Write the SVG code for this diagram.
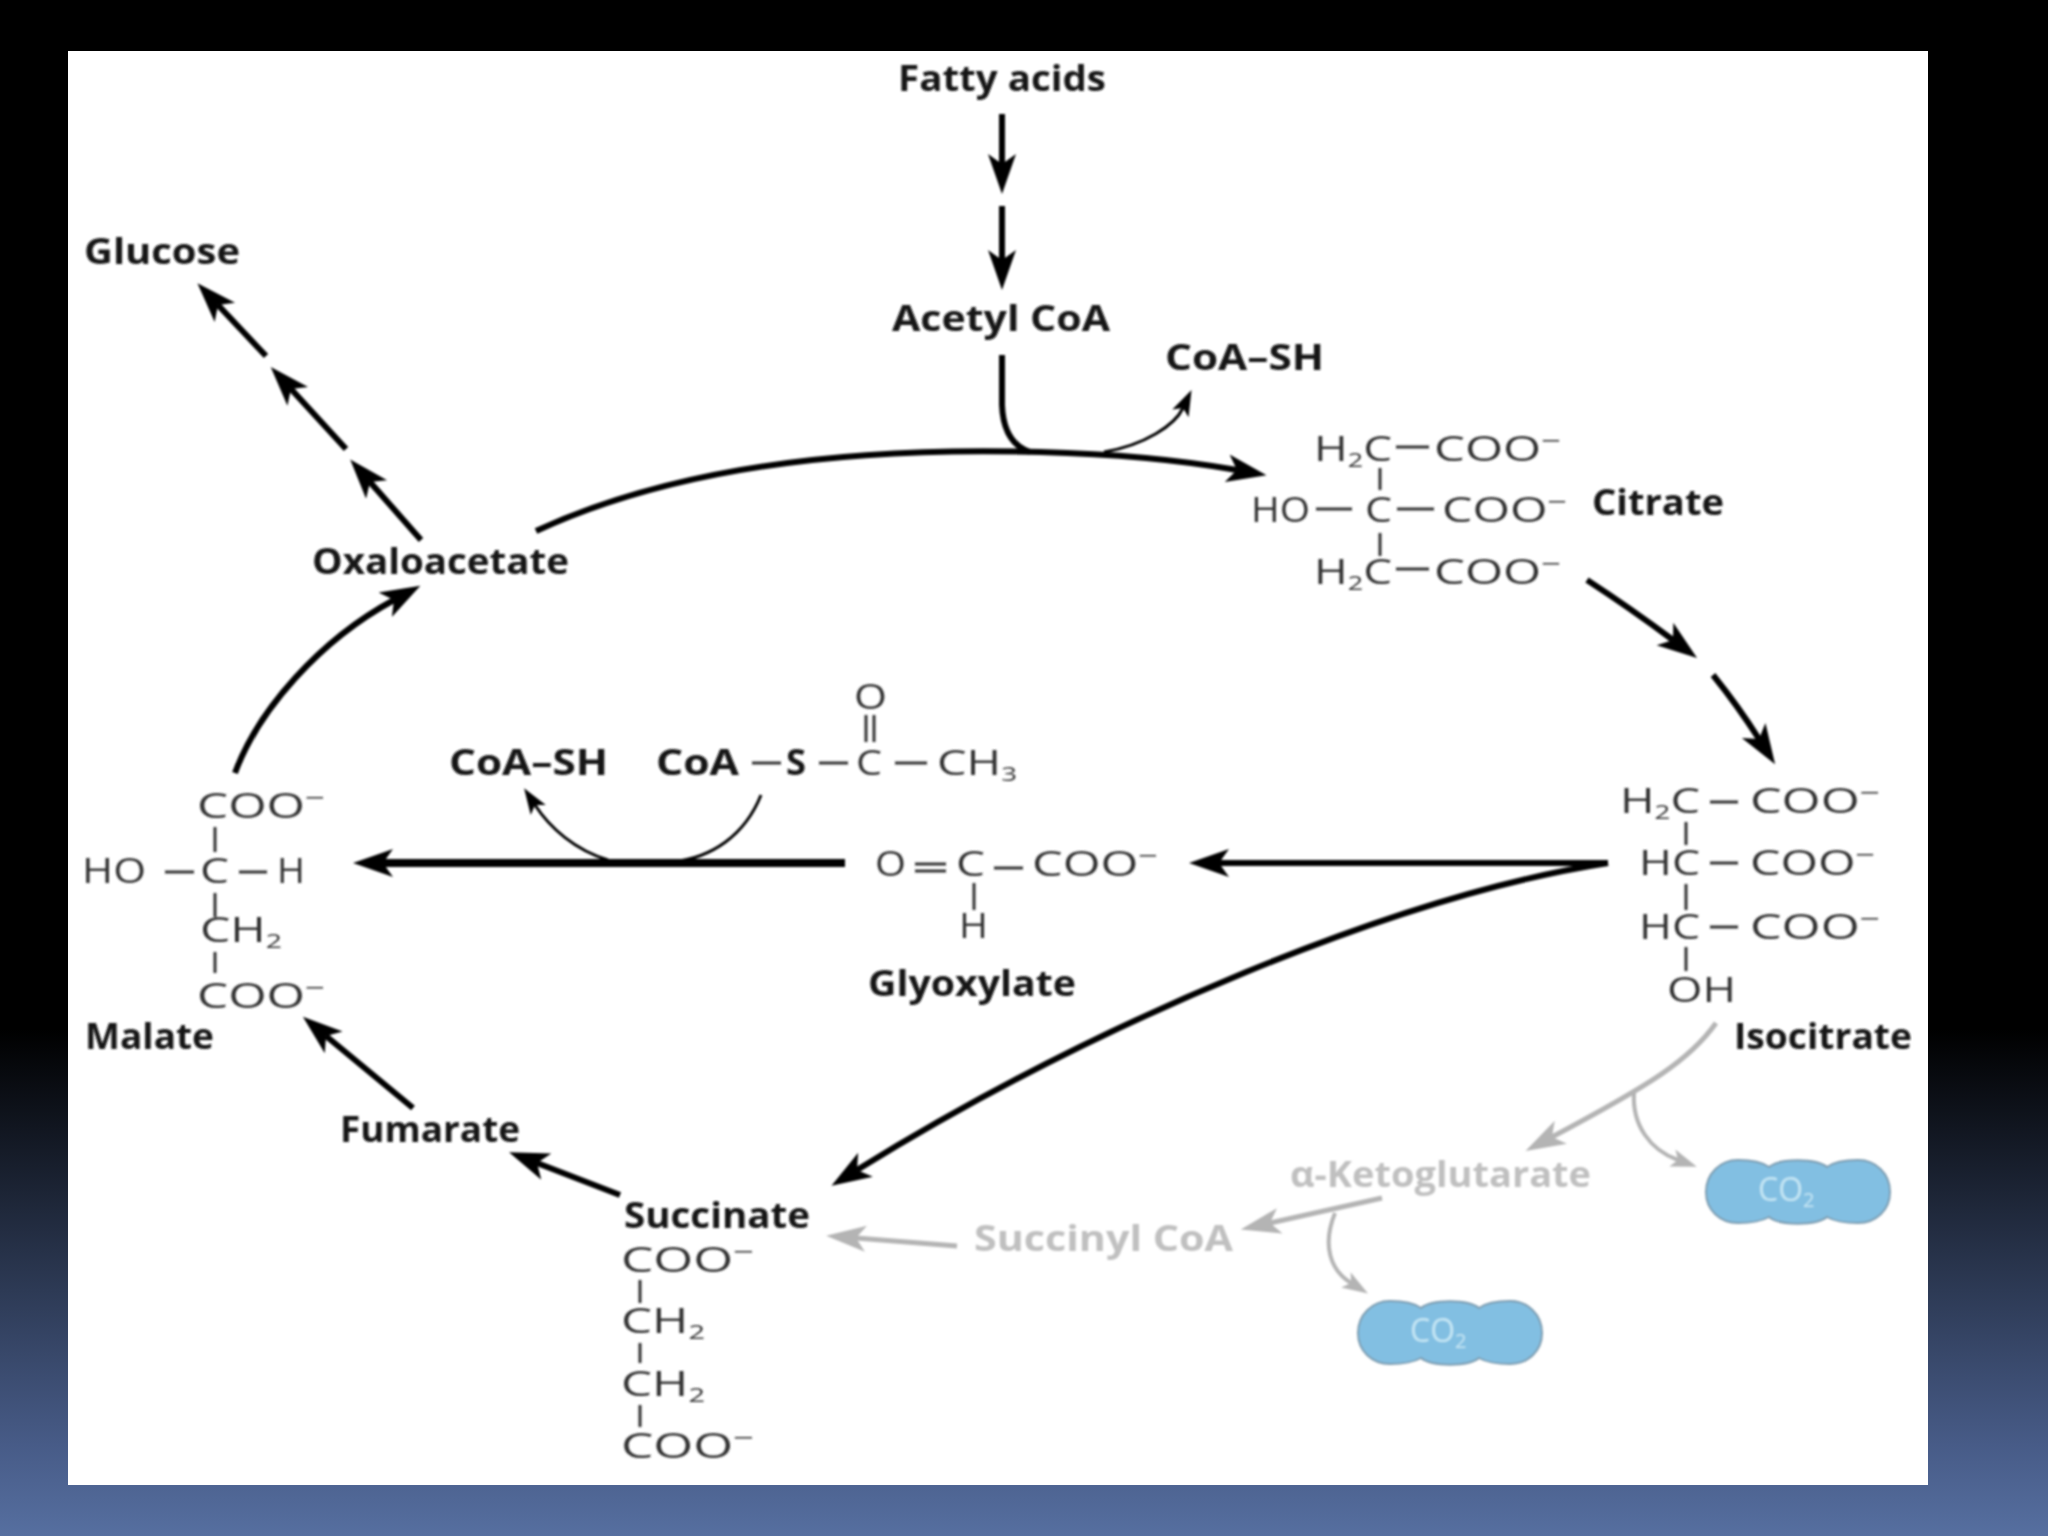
<svg xmlns="http://www.w3.org/2000/svg" width="2048" height="1536" viewBox="0 0 2048 1536">
<defs>
<linearGradient id="bg" x1="0" y1="0" x2="0" y2="1">
<stop offset="0" stop-color="#000"/><stop offset="0.67" stop-color="#000"/><stop offset="0.84" stop-color="#2d3a55"/><stop offset="0.94" stop-color="#475b87"/><stop offset="1" stop-color="#566fa0"/>
</linearGradient>
<filter id="soft" x="0" y="0" width="100%" height="100%" filterUnits="objectBoundingBox"><feGaussianBlur stdDeviation="0.9"/></filter>
<marker id="big" markerUnits="userSpaceOnUse" markerWidth="44" markerHeight="34" refX="10" refY="17" orient="auto"><path d="M0 3 L40 17 L0 31 L10 17Z" fill="#000"/></marker>
<marker id="small" markerUnits="userSpaceOnUse" markerWidth="30" markerHeight="24" refX="6" refY="12" orient="auto"><path d="M0 3 L26 12 L0 21 L6 12Z" fill="#000"/></marker>
<marker id="gbig" markerUnits="userSpaceOnUse" markerWidth="44" markerHeight="30" refX="10" refY="15" orient="auto"><path d="M0 2 L40 15 L0 28 L10 15Z" fill="#b4b4b4"/></marker>
<marker id="gsmall" markerUnits="userSpaceOnUse" markerWidth="30" markerHeight="24" refX="6" refY="12" orient="auto"><path d="M0 3 L26 12 L0 21 L6 12Z" fill="#b4b4b4"/></marker>
</defs>
<style>
.lab{font-family:"Open Sans","Liberation Sans",sans-serif;font-weight:700;font-size:35px;fill:#151515}
.gl{fill:#c0c0c0}
.ch{font-family:"Open Sans","Liberation Sans",sans-serif;font-weight:400;font-size:34px;fill:#333}
.sub{font-size:20px}
.sup{font-size:24px}
.co{font-family:"Open Sans","Liberation Sans",sans-serif;font-weight:400;font-size:32px;fill:#c4e6f4}
.bd{stroke:#333;stroke-width:3;fill:none}
.c{fill:none;stroke:#000;stroke-width:6}
.t{stroke-width:3}
.g{fill:none;stroke:#b4b4b4;stroke-width:5}
.cloud{fill:#82bfe2;stroke:#7d9cb0;stroke-width:2}
</style>
<rect width="2048" height="1536" fill="url(#bg)"/>
<rect x="68" y="51" width="1860" height="1434" fill="#fff"/>
<g filter="url(#soft)">
<g id="connectors">
<path class="c" d="M1002 114V164" marker-end="url(#big)"/>
<path class="c" d="M1002 206V260" marker-end="url(#big)"/>
<path class="c" d="M421 540L370 482" marker-end="url(#big)"/>
<path class="c" d="M346 449L291 389" marker-end="url(#big)"/>
<path class="c" d="M266 356L218 305" marker-end="url(#big)"/>
<path class="c" d="M1587 580Q1630 608 1673 640" marker-end="url(#big)"/>
<path class="c" d="M1713 675Q1738 706 1759 739" marker-end="url(#big)"/>
<path class="c" d="M1608 863H1219" stroke-width="7" marker-end="url(#big)"/>
<path class="c" d="M1608 863C1400 895 1100 1020 857 1170" marker-end="url(#big)"/>
<path class="c" style="stroke-width:8" d="M845 863H383" marker-end="url(#big)"/>
<path class="c t" d="M608 860C575 850 550 828 535 805" marker-end="url(#small)"/>
<path class="c t" d="M761 795C745 835 712 858 672 862"/>
<path class="c" d="M536 531C700 455 900 448 1040 452C1120 454 1180 460 1237 470" marker-end="url(#big)"/>
<path class="c" d="M1002 355V405C1003 430 1012 446 1030 452"/>
<path class="c t" d="M1104 452C1145 445 1175 425 1183 408" marker-end="url(#small)"/>
<path class="c" d="M235 773C258 710 320 640 394 600" marker-end="url(#big)"/>
<path class="c" d="M413 1108L326 1036" marker-end="url(#big)"/>
<path class="c" d="M620 1195L537 1163" marker-end="url(#big)"/>
<path class="g" d="M957 1246L856 1238" marker-end="url(#gbig)"/>
<path class="g" d="M1382 1198L1270 1223" marker-end="url(#gbig)"/>
<path class="g" d="M1716 1023C1690 1060 1650 1085 1552 1137" marker-end="url(#gbig)"/>
<path class="g" style="stroke-width:4" d="M1634 1093C1632 1125 1650 1150 1678 1160" marker-end="url(#gsmall)"/>
<path class="g" style="stroke-width:4" d="M1335 1213C1322 1245 1330 1270 1351 1283" marker-end="url(#gsmall)"/>
</g>
<g id="fatty-acids"><text class="lab" x="898" y="91" textLength="208" lengthAdjust="spacingAndGlyphs">Fatty acids</text></g>
<g id="glucose"><text class="lab" x="84" y="264" textLength="156" lengthAdjust="spacingAndGlyphs">Glucose</text></g>
<g id="acetyl-coa"><text class="lab" x="892" y="331" textLength="218" lengthAdjust="spacingAndGlyphs">Acetyl CoA</text></g>
<g id="coa-sh-top"><text class="lab" x="1165" y="370" textLength="159" lengthAdjust="spacingAndGlyphs">CoA–SH</text></g>
<g id="oxaloacetate"><text class="lab" x="312" y="574" textLength="257" lengthAdjust="spacingAndGlyphs">Oxaloacetate</text></g>
<g id="citrate">
<text class="lab" x="1592" y="515" textLength="132" lengthAdjust="spacingAndGlyphs">Citrate</text>
<text class="ch" x="1314" y="461" textLength="78" lengthAdjust="spacingAndGlyphs">H<tspan class="sub" dy="6">2</tspan><tspan dy="-6">C</tspan></text>
<text class="ch" x="1434" y="461" textLength="127" lengthAdjust="spacingAndGlyphs">COO<tspan class="sup" dy="-12">−</tspan></text>
<text class="ch" x="1251" y="522" textLength="59" lengthAdjust="spacingAndGlyphs">HO</text>
<text class="ch" x="1365" y="522" textLength="27" lengthAdjust="spacingAndGlyphs">C</text>
<text class="ch" x="1442" y="522" textLength="125" lengthAdjust="spacingAndGlyphs">COO<tspan class="sup" dy="-12">−</tspan></text>
<text class="ch" x="1314" y="584" textLength="78" lengthAdjust="spacingAndGlyphs">H<tspan class="sub" dy="6">2</tspan><tspan dy="-6">C</tspan></text>
<text class="ch" x="1434" y="584" textLength="127" lengthAdjust="spacingAndGlyphs">COO<tspan class="sup" dy="-12">−</tspan></text>
<path class="bd" d="M1396 447H1429M1316 509H1352M1397 509H1434M1396 569H1429M1380 468V490M1380 533V556"/>
</g>
<g id="isocitrate">
<text class="lab" x="1734" y="1049" textLength="178" lengthAdjust="spacingAndGlyphs">Isocitrate</text>
<text class="ch" x="1620" y="813" textLength="80" lengthAdjust="spacingAndGlyphs">H<tspan class="sub" dy="6">2</tspan><tspan dy="-6">C</tspan></text>
<text class="ch" x="1750" y="813" textLength="130" lengthAdjust="spacingAndGlyphs">COO<tspan class="sup" dy="-12">−</tspan></text>
<text class="ch" x="1639" y="875" textLength="61" lengthAdjust="spacingAndGlyphs">HC</text>
<text class="ch" x="1750" y="875" textLength="125" lengthAdjust="spacingAndGlyphs">COO<tspan class="sup" dy="-12">−</tspan></text>
<text class="ch" x="1639" y="939" textLength="61" lengthAdjust="spacingAndGlyphs">HC</text>
<text class="ch" x="1750" y="939" textLength="130" lengthAdjust="spacingAndGlyphs">COO<tspan class="sup" dy="-12">−</tspan></text>
<text class="ch" x="1667" y="1002" textLength="69" lengthAdjust="spacingAndGlyphs">OH</text>
<path class="bd" d="M1710 802H1738M1710 863H1738M1710 927H1738M1686 822V845M1686 884V910M1686 947V971"/>
</g>
<g id="glyoxylate">
<text class="lab" x="868" y="996" textLength="208" lengthAdjust="spacingAndGlyphs">Glyoxylate</text>
<text class="ch" x="875" y="876" textLength="31" lengthAdjust="spacingAndGlyphs">O</text>
<text class="ch" x="956" y="876" textLength="29" lengthAdjust="spacingAndGlyphs">C</text>
<text class="ch" x="1032" y="876" textLength="126" lengthAdjust="spacingAndGlyphs">COO<tspan class="sup" dy="-12">−</tspan></text>
<text class="ch" x="959" y="938" textLength="29" lengthAdjust="spacingAndGlyphs">H</text>
<path class="bd" d="M915 864H946M915 871H946M994 868H1023M974 883V910"/>
</g>
<g id="acetyl-coa-thioester">
<text class="lab" x="449" y="775" textLength="159" lengthAdjust="spacingAndGlyphs">CoA–SH</text>
<text class="lab" x="656" y="775" textLength="83" lengthAdjust="spacingAndGlyphs">CoA</text>
<text class="lab" x="786" y="775" textLength="20" lengthAdjust="spacingAndGlyphs">S</text>
<text class="ch" x="856" y="775" textLength="26" lengthAdjust="spacingAndGlyphs">C</text>
<text class="ch" x="937" y="775" textLength="80" lengthAdjust="spacingAndGlyphs">CH<tspan class="sub" dy="6">3</tspan></text>
<text class="ch" x="854" y="709" textLength="33" lengthAdjust="spacingAndGlyphs">O</text>
<path class="bd" d="M752 763H781M819 763H848M895 763H927M866 715V742M874 715V742"/>
</g>
<g id="malate">
<text class="lab" x="85" y="1049" textLength="129" lengthAdjust="spacingAndGlyphs">Malate</text>
<text class="ch" x="197" y="818" textLength="128" lengthAdjust="spacingAndGlyphs">COO<tspan class="sup" dy="-12">−</tspan></text>
<text class="ch" x="82" y="883" textLength="64" lengthAdjust="spacingAndGlyphs">HO</text>
<text class="ch" x="200" y="883" textLength="29" lengthAdjust="spacingAndGlyphs">C</text>
<text class="ch" x="277" y="883" textLength="28" lengthAdjust="spacingAndGlyphs">H</text>
<text class="ch" x="200" y="942" textLength="82" lengthAdjust="spacingAndGlyphs">CH<tspan class="sub" dy="6">2</tspan></text>
<text class="ch" x="197" y="1008" textLength="128" lengthAdjust="spacingAndGlyphs">COO<tspan class="sup" dy="-12">−</tspan></text>
<path class="bd" d="M215 827V852M215 893V917M215 952V973M165 872H194M239 872H267"/>
</g>
<g id="fumarate"><text class="lab" x="340" y="1142" textLength="180" lengthAdjust="spacingAndGlyphs">Fumarate</text></g>
<g id="succinate">
<text class="lab" x="624" y="1228" textLength="186" lengthAdjust="spacingAndGlyphs">Succinate</text>
<text class="ch" x="621" y="1272" textLength="133" lengthAdjust="spacingAndGlyphs">COO<tspan class="sup" dy="-12">−</tspan></text>
<text class="ch" x="621" y="1333" textLength="84" lengthAdjust="spacingAndGlyphs">CH<tspan class="sub" dy="6">2</tspan></text>
<text class="ch" x="621" y="1396" textLength="84" lengthAdjust="spacingAndGlyphs">CH<tspan class="sub" dy="6">2</tspan></text>
<text class="ch" x="621" y="1458" textLength="133" lengthAdjust="spacingAndGlyphs">COO<tspan class="sup" dy="-12">−</tspan></text>
<path class="bd" d="M640 1280V1303M640 1343V1363M640 1405V1427"/>
</g>
<g id="succinyl-coa"><text class="lab gl" x="974" y="1251" textLength="259" lengthAdjust="spacingAndGlyphs">Succinyl CoA</text></g>
<g id="a-ketoglutarate"><text class="lab gl" x="1290" y="1187" textLength="301" lengthAdjust="spacingAndGlyphs">α-Ketoglutarate</text></g>
<g id="co2-upper">
<path class="cloud" d="M1738 1160C1752 1160 1762 1162 1769 1167C1780 1158 1816 1158 1827 1167C1834 1162 1844 1160 1858 1160C1876 1160 1890 1174 1890 1192C1890 1210 1876 1223 1858 1223C1844 1223 1834 1221 1827 1217C1816 1226 1780 1226 1769 1217C1762 1221 1752 1223 1738 1223C1720 1223 1706 1210 1706 1192C1706 1174 1720 1160 1738 1160Z"/>
<text class="co" x="1758" y="1201">CO<tspan class="sub" dy="6">2</tspan></text>
</g>
<g id="co2-lower">
<path class="cloud" d="M1390 1301C1404 1301 1414 1303 1421 1308C1432 1299 1468 1299 1479 1308C1486 1303 1496 1301 1510 1301C1528 1301 1542 1315 1542 1333C1542 1351 1528 1364 1510 1364C1496 1364 1486 1362 1479 1358C1468 1367 1432 1367 1421 1358C1414 1362 1404 1364 1390 1364C1372 1364 1358 1351 1358 1333C1358 1315 1372 1301 1390 1301Z"/>
<text class="co" x="1410" y="1342">CO<tspan class="sub" dy="6">2</tspan></text>
</g>
</g>
</svg>
